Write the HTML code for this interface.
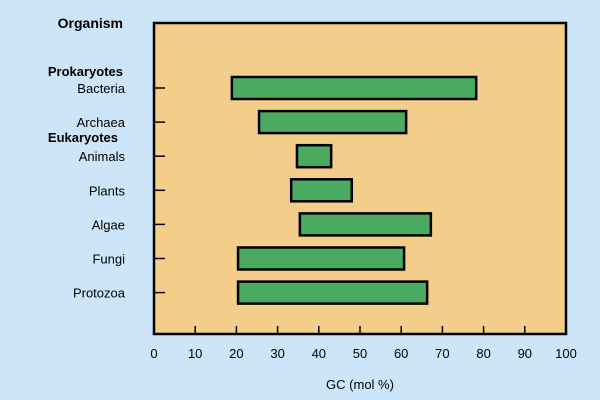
<!DOCTYPE html>
<html><head><meta charset="utf-8"><style>
body{margin:0;background:#cce5f8;}
svg{display:block;font-family:"Liberation Sans",Arial,sans-serif;}
</style></head><body>
<svg width="600" height="400" id="chart">
<rect x="0" y="0" width="600" height="400" fill="#cce5f8"/>
<rect x="154" y="23" width="412" height="311" fill="#f3cd8a" stroke="#000" stroke-width="2.5"/>
<text x="123" y="28" text-anchor="end" font-size="14" font-weight="bold">Organism</text>
<text x="123" y="76" text-anchor="end" font-size="13" font-weight="bold">Prokaryotes</text>
<text x="118" y="142" text-anchor="end" font-size="13" font-weight="bold">Eukaryotes</text>
<text x="360" y="389" text-anchor="middle" font-size="13">GC (mol %)</text>
<g id="g"></g>
</svg>
<script>
const categories=["Bacteria","Archaea","Animals","Plants","Algae","Fungi","Protozoa"];
const lowValues=[18.9,25.5,34.7,33.3,35.4,20.4,20.4];
const highValues=[78.2,61.2,43,48,67.2,60.7,66.3];
const xTicks=[0,10,20,30,40,50,60,70,80,90,100];
const NS="http://www.w3.org/2000/svg";
const g=document.getElementById('g');
const x=v=>154+v*4.12;
const rowY=i=>88+i*34.1;
function mk(t,a){const e=document.createElementNS(NS,t);for(const k in a)e.setAttribute(k,a[k]);g.appendChild(e);return e;}
xTicks.forEach(t=>{
  const l=mk('line',{x1:x(t),x2:x(t),y1:334,y2:326,stroke:'#000','stroke-width':1.5});
  
  
  const tx=mk('text',{x:x(t),y:358,'text-anchor':'middle','font-size':13});
  tx.textContent=t;
  
  
});
categories.forEach((c,i)=>{
  const y=rowY(i);
  const l=mk('line',{x1:154,x2:165,y1:y,y2:y,stroke:'#000','stroke-width':1.5});
  
  
  const tx=mk('text',{x:125,y:y+5,'text-anchor':'end','font-size':13});
  tx.textContent=c;
  
  
  const r=mk('rect',{x:x(lowValues[i]),y:y-11,width:x(highValues[i])-x(lowValues[i]),height:22,fill:'#4aaa5f',stroke:'#000','stroke-width':2.5});
  
  
});
</script>
</body></html>
